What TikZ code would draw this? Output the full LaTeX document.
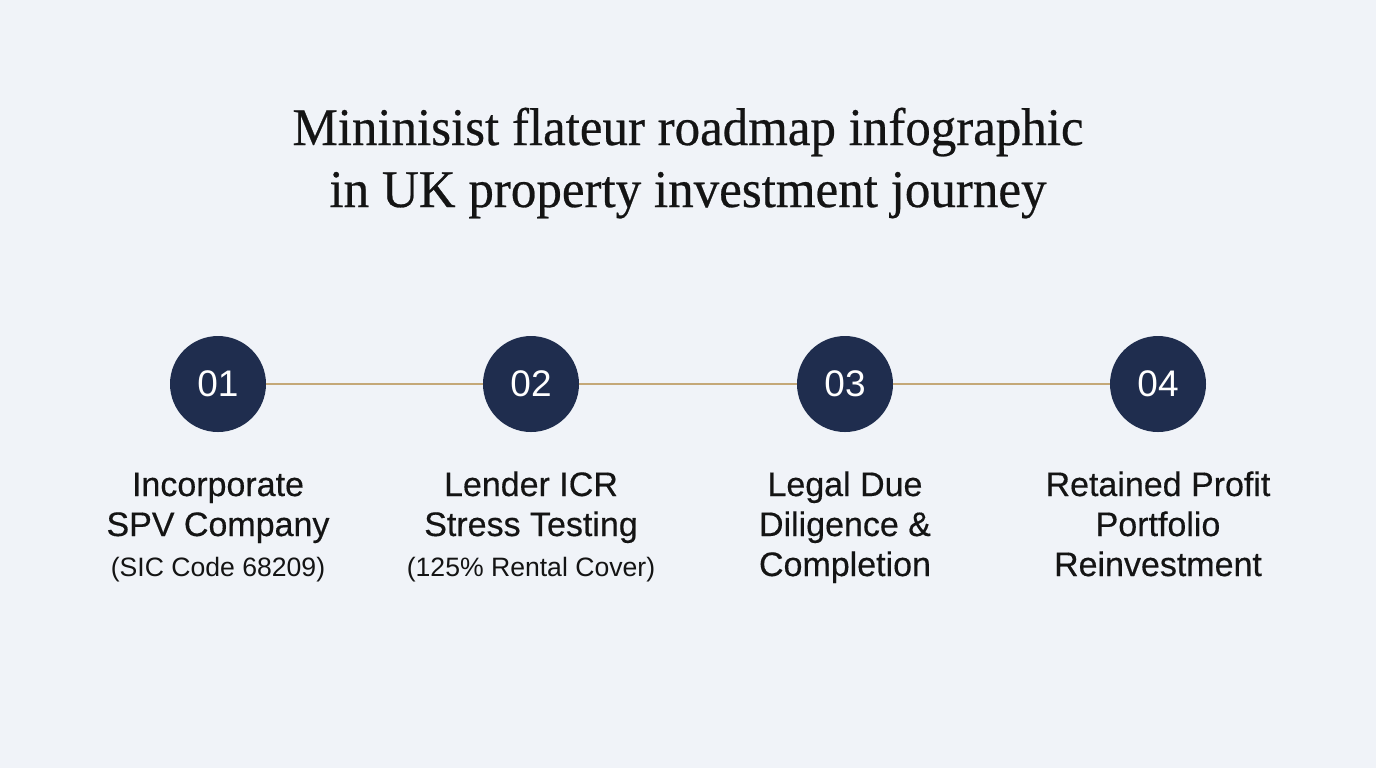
\documentclass[tikz,border=0pt]{standalone}
\usepackage{fontspec}
\setmainfont{Liberation Sans}
\newfontfamily\titlefont[FakeBold=0.5]{Liberation Serif}
\newfontfamily\labelfont{Liberation Sans}
\newfontfamily\mainlabelfont[FakeBold=0.4]{Liberation Sans}
\definecolor{bgc}{HTML}{F0F3F8}
\definecolor{navy}{HTML}{1F2D4E}
\definecolor{gold}{HTML}{C4A878}
\definecolor{ink}{HTML}{141414}
\tikzset{
  stepcircle/.style={circle, fill=navy, minimum size=48pt, inner sep=0pt, text=white, font=\labelfont\fontsize{18.5}{22}\selectfont},
  link/.style={draw=gold, line width=1.4pt},
  mainlbl/.style={anchor=base, inner sep=0pt, text=ink, font=\mainlabelfont\fontsize{17}{20}\selectfont},
  sublbl/.style={anchor=base, inner sep=0pt, text=ink, font=\labelfont\fontsize{13.3}{16}\selectfont},
  titlelbl/.style={anchor=base, inner sep=0pt, text=ink, font=\titlefont\fontsize{26.5}{30}\selectfont}
}
\begin{document}
\begin{tikzpicture}[x=0.5pt,y=-0.5pt]
\fill[bgc] (0,0) rectangle (1376,768);
\useasboundingbox (0,0) rectangle (1376,768);
% title
\node[titlelbl] (t1) at (688,145) {\resizebox{395.5pt}{\height}{Mininisist flateur roadmap infographic}};
\node[titlelbl] (t2) at (688,207) {\resizebox{358.5pt}{\height}{in UK property investment journey}};
% circles
\node[stepcircle] (c1) at (218,384) {01};
\node[stepcircle] (c2) at (531,384) {02};
\node[stepcircle] (c3) at (845,384) {03};
\node[stepcircle] (c4) at (1158,384) {04};
\draw[link] (c1.east) -- (c2.west);
\draw[link] (c2.east) -- (c3.west);
\draw[link] (c3.east) -- (c4.west);
% labels
\node[mainlbl] (a1) at (218,496) {Incorporate};
\node[mainlbl] (a2) at (218,536) {SPV Company};
\node[sublbl]  (a3) at (218,576) {(SIC Code 68209)};
\node[mainlbl] (b1) at (531,496) {Lender ICR};
\node[mainlbl] (b2) at (531,536) {Stress Testing};
\node[sublbl]  (b3) at (531,576) {(125\% Rental Cover)};
\node[mainlbl] (d1) at (845,496) {Legal Due};
\node[mainlbl] (d2) at (845,536) {Diligence \&};
\node[mainlbl] (d3) at (845,576) {Completion};
\node[mainlbl] (e1) at (1158,496) {Retained Profit};
\node[mainlbl] (e2) at (1158,536) {Portfolio};
\node[mainlbl] (e3) at (1158,576) {Reinvestment};
\end{tikzpicture}
\end{document}
